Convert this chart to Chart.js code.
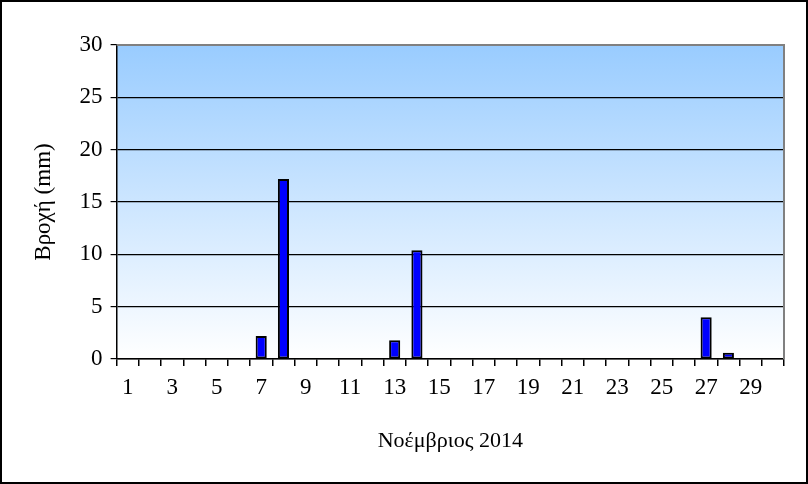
<!DOCTYPE html>
<html>
<head>
<meta charset="utf-8">
<script src="https://cdn.jsdelivr.net/npm/chart.js@4/dist/chart.umd.min.js"></script>
<style>
  html, body { margin: 0; padding: 0; background: #fff; }
  #wrap { width: 808px; height: 484px; box-sizing: border-box; border: 2px solid #000; }
</style>
</head>
<body>
<div id="wrap"><canvas id="rain" width="804" height="480"></canvas></div>
<script>
// rainfall per day, November 2014
const days = Array.from({ length: 30 }, (_, i) => String(i + 1));
const rain = [0, 0, 0, 0, 0, 0, 2.2, 17.2, 0, 0, 0, 0, 1.8, 10.4, 0,
              0, 0, 0, 0, 0, 0, 0, 0, 0, 0, 0, 4.0, 0.6, 0, 0];
const yTicks = [0, 5, 10, 15, 20, 25, 30];

const serif = "'Liberation Serif', 'Times New Roman', serif";

// blue-to-white fill behind the bars plus the grey frame
const plotBg = {
    id: "plotBg",
    beforeDraw(chart) {
        const { ctx, chartArea: a } = chart;
        let g = ctx.createLinearGradient(0, a.top, 0, a.bottom);
        g.addColorStop(0, "#99ccff");
        g.addColorStop(1, "#ffffff");
        ctx.save();
        ctx.fillStyle = g;
        ctx.fillRect(a.left, a.top, a.right - a.left, a.bottom - a.top);
        ctx.restore();
    },
    afterDatasetsDraw(chart) {
        const { ctx, chartArea: a } = chart;
        ctx.save();
        ctx.strokeStyle = "#808080";
        ctx.lineWidth = 2;
        ctx.beginPath();
        ctx.moveTo(a.left, a.top);
        ctx.lineTo(a.right, a.top);
        ctx.lineTo(a.right, a.bottom);
        ctx.stroke();
        ctx.restore();
    }
};

new Chart(document.getElementById("rain"), {
    type: "bar",
    data: {
        labels: days,
        datasets: [{
            data: rain,
            backgroundColor: "#0000ff",
            borderColor: "#000000",
            borderWidth: 2,
            borderSkipped: false,
            barPercentage: 0.5,
            categoryPercentage: 1
        }]
    },
    options: {
        responsive: false,
        animation: false,
        layout: { padding: { top: 43, right: 22, bottom: 24, left: 24 } },
        plugins: { legend: { display: false }, tooltip: { enabled: false } },
        scales: {
            x: {
                grid: { offset: true, drawOnChartArea: false, color: "#000", tickLength: 7, lineWidth: 1.5 },
                border: { color: "#000", width: 1.5 },
                ticks: {
                    autoSkip: false, maxRotation: 0, color: "#000",
                    font: { family: serif, size: 23 },
                    padding: 8,
                    callback: (v, i) => (i % 2 === 0 ? days[i] : "")
                },
                title: {
                    display: true, text: "Νοέμβριος 2014", color: "#000",
                    font: { family: serif, size: 22 }, padding: { top: 18 }
                }
            },
            y: {
                min: 0, max: 30,
                afterBuildTicks: (s) => { s.ticks = yTicks.map((v) => ({ value: v })); },
                grid: { color: "#000", tickLength: 6, lineWidth: 1.2 },
                border: { color: "#000", width: 1.5 },
                ticks: { color: "#000", font: { family: serif, size: 23 }, padding: 8 },
                title: {
                    display: true, text: "Βροχή (mm)", color: "#000",
                    font: { family: serif, size: 23 }, padding: { bottom: 14 }
                }
            }
        }
    },
    plugins: [plotBg]
});
</script>
</body>
</html>
